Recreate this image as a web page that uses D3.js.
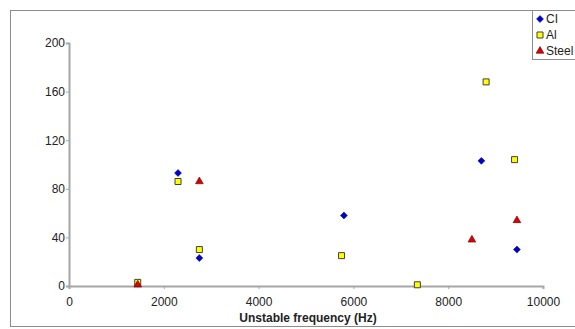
<!DOCTYPE html>
<html>
<head>
<meta charset="utf-8">
<script src="https://cdn.jsdelivr.net/npm/d3@7"></script>
<style>
  body { margin: 0; background: #fff; }
  svg { font-family: "Liberation Sans", Arial, sans-serif; }
</style>
</head>
<body>
<svg id="chart" width="575" height="329"></svg>
<script>
// values: [frequency Hz, y]
const ciPoints = [[2300, 93], [2750, 23], [5800, 58], [8700, 103], [9450, 30]];
const alPoints = [[1450, 3], [2300, 86], [2750, 30], [5750, 25], [7350, 1], [8800, 168], [9400, 104]];
const steelPoints = [[1450, 1], [2750, 86], [8500, 38], [9450, 54]];
const seriesNames = ['CI', 'Al', 'Steel'];
const xTicks = [0, 2000, 4000, 6000, 8000, 10000];
const yTicks = [0, 40, 80, 120, 160, 200];

const svg = d3.select('#chart');

const plotLeft = 69, plotRight = 543, plotTop = 43, plotBottom = 286;

const x = d3.scaleLinear().domain([0, 10000]).range([plotLeft, plotRight]);
const y = d3.scaleLinear().domain([0, 200]).range([plotBottom, plotTop]);

// outer frame
svg.append('rect')
    .attr('x', 10.5).attr('y', 10.5)
    .attr('width', 580).attr('height', 316)
    .attr('fill', 'none')
    .attr('stroke', '#8c8c8c');

const axisColor = '#a6a6a6';

const xAxis = svg.append('g')
    .attr('transform', `translate(0,${plotBottom})`)
    .call(d3.axisBottom(x).tickValues(xTicks).tickSize(3).tickPadding(8).tickFormat(d3.format('d')));
const yAxis = svg.append('g')
    .attr('transform', `translate(${plotLeft},0)`)
    .call(d3.axisLeft(y).tickValues(yTicks).tickSize(3).tickPadding(1).tickFormat(d3.format('d')));

[xAxis, yAxis].forEach(g => {
    g.select('.domain').attr('stroke', axisColor).attr('stroke-width', 2);
    g.selectAll('.tick line').attr('stroke', axisColor);
    g.selectAll('.tick text')
        .attr('fill', '#222')
        .style('font-size', '12px')
        .style('font-family', '"Liberation Sans", Arial, sans-serif');
});

svg.append('text')
    .attr('x', (plotLeft + plotRight) / 2 + 2)
    .attr('y', 322)
    .attr('text-anchor', 'middle')
    .style('font-size', '12px')
    .style('font-weight', 'bold')
    .attr('fill', '#222')
    .text('Unstable frequency (Hz)');

const styles = {
    CI: { type: d3.symbolSquare, size: 24, rotate: 45, fill: '#0000cc', stroke: '#000080', sw: 0.5 },
    Al: { type: d3.symbolSquare, size: 36, rotate: 0, fill: '#ffff00', stroke: '#404040', sw: 1 },
    Steel: { type: d3.symbolTriangle, size: 26, rotate: 0, fill: '#dd0000', stroke: '#600000', sw: 0.6 }
};
const seriesData = { CI: ciPoints, Al: alPoints, Steel: steelPoints };

seriesNames.forEach(name => {
    const s = styles[name];
    svg.append('g').selectAll('path')
        .data(seriesData[name])
        .join('path')
        .attr('transform', d => `translate(${x(d[0])},${y(d[1])}) rotate(${s.rotate})`)
        .attr('d', d3.symbol().type(s.type).size(s.size))
        .attr('fill', s.fill)
        .attr('stroke', s.stroke)
        .attr('stroke-width', s.sw);
});

// legend
const legend = svg.append('g');
legend.append('rect')
    .attr('x', 532.5).attr('y', 10.5)
    .attr('width', 60).attr('height', 49)
    .attr('fill', '#fff')
    .attr('stroke', '#8c8c8c');
seriesNames.forEach((name, i) => {
    const s = styles[name];
    const ly = 19 + i * 16;
    legend.append('path')
        .attr('transform', `translate(540,${ly}) rotate(${s.rotate})`)
        .attr('d', d3.symbol().type(s.type).size(s.size))
        .attr('fill', s.fill)
        .attr('stroke', s.stroke)
        .attr('stroke-width', s.sw);
    legend.append('text')
        .attr('x', 546).attr('y', ly + 4)
        .style('font-size', '12px')
        .attr('fill', '#222')
        .text(name);
});
</script>
</body>
</html>
